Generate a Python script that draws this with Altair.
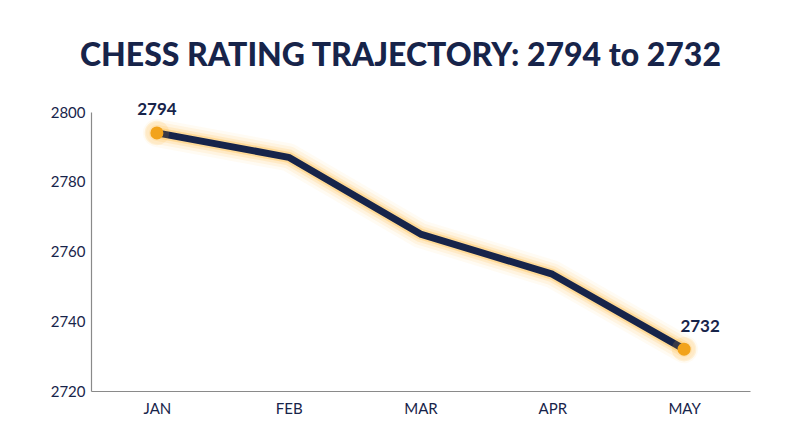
import altair as alt
import pandas as pd

months = ["JAN", "FEB", "MAR", "APR", "MAY"]
ratings = [2794, 2787, 2765, 2753.5, 2732]
label_text = ["2794", "", "", "", "2732"]

df = pd.DataFrame({"month": months, "rating": ratings, "label": label_text})

NAVY = "#17244a"
ORANGE = "#f2a31b"
GLOW = "#ffb52e"

x_enc = alt.X("month:N", sort=months,
              scale=alt.Scale(type="point", padding=0.5),
              axis=alt.Axis(title=None, labelAngle=0, ticks=False, labelPadding=10,
                            labelFontSize=15, labelColor=NAVY, labelFont="Lato",
                            domainColor="#8a8a8a", domainWidth=1.2, grid=False))
y_enc = alt.Y("rating:Q", scale=alt.Scale(domain=[2720, 2800], nice=False, zero=False),
              axis=alt.Axis(title=None, values=[2720, 2740, 2760, 2780, 2800], ticks=False,
                            format="d", labelPadding=6, labelFontSize=15, labelColor=NAVY,
                            labelFont="Lato", domainColor="#8a8a8a", domainWidth=1.2, grid=False))

base = alt.Chart(df).encode(x=x_enc, y=y_enc)

glows = [
    base.mark_line(color=GLOW, strokeWidth=w, opacity=o, strokeJoin="round", strokeCap="round")
    for w, o in [(28, 0.06), (22, 0.09), (16, 0.15), (11, 0.3)]
]
line = base.mark_line(color=NAVY, strokeWidth=7, strokeJoin="round", strokeCap="round")

ends = base.transform_filter("datum.label != ''")
pt_glow = ends.mark_circle(color=GLOW, size=600, opacity=0.15)
points = ends.mark_circle(color=ORANGE, size=170, opacity=1)

lbl_first = base.transform_filter("datum.month == 'JAN'").mark_text(
    fontSize=17, fontWeight="bold", font="Lato", color=NAVY, dy=-23
).encode(text="label:N")
lbl_last = base.transform_filter("datum.month == 'MAY'").mark_text(
    fontSize=17, fontWeight="bold", font="Lato", color=NAVY, dy=-22, dx=16
).encode(text="label:N")

chart = alt.layer(*glows, line, pt_glow, points, lbl_first, lbl_last).properties(
    width=659, height=279,
    background="white",
    autosize=alt.AutoSizeParams(type="none"),
    padding={"left": 83, "top": 104, "right": 40, "bottom": 40},
    title=alt.TitleParams("CHESS RATING TRAJECTORY: 2794 to 2732", fontSize=32, font="Lato",
                          fontWeight=900, color=NAVY, anchor="middle", offset=28, dx=-20),
).configure_view(strokeWidth=0, stroke=None)

chart.save("out.html", embed_options={"renderer": "svg", "actions": False})
